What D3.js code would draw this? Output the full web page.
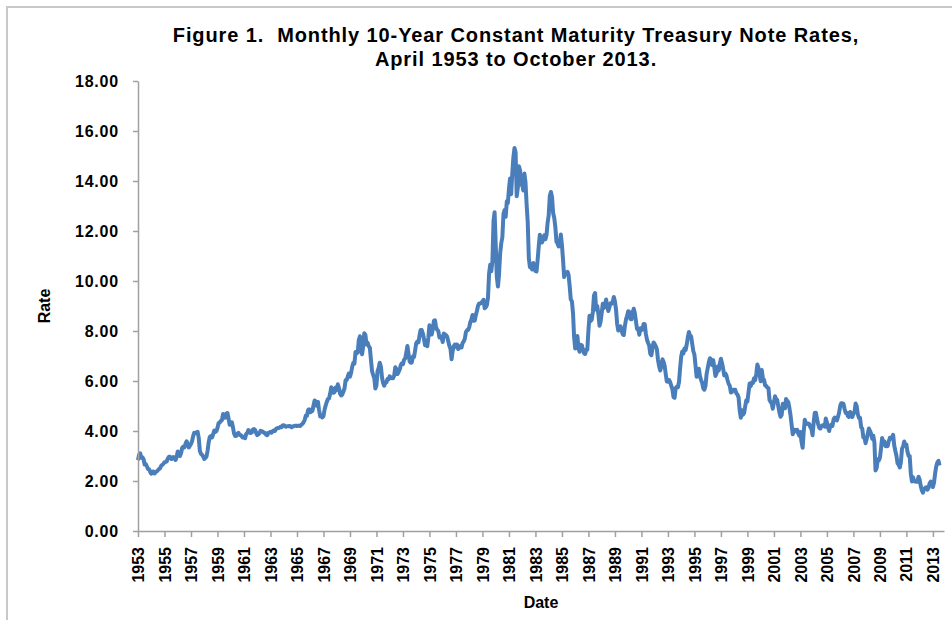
<!DOCTYPE html>
<html>
<head>
<meta charset="utf-8">
<script src="https://cdn.jsdelivr.net/npm/d3@7"></script>
<style>
  body { margin: 0; background: #fff; }
  svg { display: block; font-family: "Liberation Sans", Arial, sans-serif; }
</style>
</head>
<body>
<div id="chart"></div>
<script>
// monthly 10-year constant maturity rates, starting April 1953
const rates1950s = [
  2.83, 3.05, 3.11, 2.93, 2.95, 2.87, 2.66, 2.68, 2.59,
  2.48, 2.47, 2.37, 2.29, 2.37, 2.38, 2.30, 2.36, 2.38, 2.43, 2.48, 2.51,
  2.61, 2.65, 2.68, 2.75, 2.76, 2.78, 2.90, 2.97, 2.97, 2.88, 2.89, 2.96,
  2.90, 2.84, 2.96, 3.18, 3.07, 3.00, 3.11, 3.33, 3.38, 3.34, 3.49, 3.59,
  3.46, 3.34, 3.41, 3.48, 3.60, 3.80, 3.93, 3.93, 3.92, 3.97, 3.72, 3.21,
  3.09, 3.05, 2.98, 2.88, 2.92, 2.97, 3.20, 3.54, 3.76, 3.80, 3.74, 3.86,
  4.02, 3.96, 3.99, 4.12, 4.31, 4.34, 4.40, 4.43, 4.68, 4.53, 4.53, 4.69
];
const rates1960s = [
  4.72, 4.49, 4.25, 4.28, 4.35, 4.15, 3.90, 3.80, 3.80, 3.89, 3.93, 3.84,
  3.84, 3.78, 3.74, 3.78, 3.71, 3.88, 3.92, 4.04, 3.98, 3.92, 3.94, 4.06,
  4.08, 4.04, 3.93, 3.84, 3.87, 3.91, 4.01, 3.98, 3.98, 3.93, 3.92, 3.86,
  3.83, 3.92, 3.93, 3.97, 3.93, 3.99, 4.02, 4.00, 4.08, 4.11, 4.12, 4.13,
  4.17, 4.15, 4.22, 4.23, 4.20, 4.17, 4.19, 4.19, 4.20, 4.19, 4.15, 4.18,
  4.19, 4.21, 4.21, 4.20, 4.21, 4.21, 4.20, 4.25, 4.29, 4.35, 4.45, 4.62,
  4.61, 4.83, 4.87, 4.75, 4.78, 4.81, 5.02, 5.22, 5.18, 5.01, 5.16, 4.84,
  4.58, 4.63, 4.54, 4.59, 4.85, 5.02, 5.16, 5.28, 5.30, 5.48, 5.75, 5.70,
  5.53, 5.56, 5.74, 5.64, 5.87, 5.72, 5.50, 5.42, 5.46, 5.58, 5.70, 6.03,
  6.04, 6.19, 6.30, 6.17, 6.32, 6.57, 6.72, 6.69, 7.16, 7.10, 7.14, 7.65
];
const rates1970s = [
  7.79, 7.24, 7.07, 7.39, 7.91, 7.84, 7.46, 7.53, 7.39, 7.33, 6.84, 6.39,
  6.24, 6.11, 5.70, 5.83, 6.39, 6.52, 6.73, 6.58, 6.14, 5.93, 5.81, 5.93,
  5.95, 6.08, 6.07, 6.19, 6.13, 6.11, 6.11, 6.21, 6.55, 6.48, 6.28, 6.36,
  6.46, 6.64, 6.71, 6.67, 6.85, 6.90, 7.13, 7.40, 7.09, 6.79, 6.73, 6.74,
  6.99, 6.96, 7.21, 7.51, 7.58, 7.54, 7.81, 8.04, 8.04, 7.90, 7.68, 7.43,
  7.50, 7.39, 7.73, 8.23, 8.06, 7.86, 8.06, 8.40, 8.43, 8.14, 8.05, 8.00,
  7.74, 7.79, 7.73, 7.56, 7.90, 7.86, 7.83, 7.77, 7.59, 7.41, 7.29, 6.87,
  7.21, 7.39, 7.46, 7.37, 7.46, 7.28, 7.33, 7.40, 7.34, 7.52, 7.58, 7.69,
  7.96, 8.03, 8.04, 8.15, 8.35, 8.46, 8.64, 8.41, 8.42, 8.64, 8.81, 9.01,
  9.10, 9.10, 9.12, 9.18, 9.25, 8.91, 8.95, 9.03, 9.33, 10.30, 10.65, 10.39
];
const rates1980s = [
  10.80, 12.41, 12.75, 11.47, 10.18, 9.78, 10.25, 11.10, 11.51, 11.75, 12.68, 12.84,
  12.57, 13.19, 13.12, 13.68, 14.10, 13.47, 14.28, 14.94, 15.32, 15.15, 13.39, 13.72,
  14.59, 14.43, 13.86, 13.87, 13.62, 14.30, 13.95, 13.06, 12.34, 10.91, 10.55, 10.54,
  10.46, 10.72, 10.51, 10.40, 10.38, 10.85, 11.38, 11.85, 11.65, 11.54, 11.69, 11.83,
  11.67, 11.84, 12.32, 12.63, 13.41, 13.56, 13.36, 12.72, 12.52, 12.16, 11.57, 11.50,
  11.38, 11.51, 11.86, 11.43, 10.85, 10.16, 10.31, 10.33, 10.37, 10.24, 9.78, 9.26,
  9.19, 8.70, 7.78, 7.30, 7.71, 7.80, 7.30, 7.17, 7.45, 7.43, 7.25, 7.11,
  7.08, 7.25, 7.25, 8.02, 8.61, 8.40, 8.45, 8.76, 9.42, 9.52, 8.86, 8.99,
  8.67, 8.21, 8.37, 8.72, 9.09, 8.92, 9.06, 9.26, 8.98, 8.80, 8.96, 9.11,
  9.09, 9.17, 9.36, 9.18, 8.86, 8.28, 8.02, 8.11, 8.19, 8.01, 7.87, 7.84
];
const rates1990s = [
  8.21, 8.47, 8.59, 8.79, 8.76, 8.48, 8.47, 8.75, 8.89, 8.72, 8.39, 8.08,
  8.09, 7.85, 8.11, 8.04, 8.07, 8.28, 8.27, 7.90, 7.65, 7.53, 7.42, 7.09,
  7.03, 7.34, 7.54, 7.48, 7.39, 7.26, 6.84, 6.59, 6.42, 6.59, 6.87, 6.77,
  6.60, 6.26, 5.98, 5.97, 6.04, 5.96, 5.81, 5.68, 5.36, 5.33, 5.72, 5.77,
  5.75, 5.97, 6.48, 6.97, 7.18, 7.10, 7.30, 7.24, 7.46, 7.74, 7.96, 7.81,
  7.78, 7.47, 7.20, 7.06, 6.63, 6.17, 6.28, 6.49, 6.20, 6.04, 5.93, 5.71,
  5.65, 5.81, 6.27, 6.51, 6.74, 6.91, 6.87, 6.64, 6.83, 6.53, 6.20, 6.30,
  6.58, 6.42, 6.69, 6.89, 6.71, 6.49, 6.22, 6.30, 6.21, 6.03, 5.88, 5.81,
  5.54, 5.57, 5.65, 5.64, 5.65, 5.50, 5.46, 5.34, 4.81, 4.53, 4.83, 4.65,
  4.72, 5.00, 5.23, 5.18, 5.54, 5.90, 5.79, 5.94, 5.92, 6.11, 6.03, 6.28
];
const rates2000s = [
  6.66, 6.52, 6.26, 5.99, 6.44, 6.10, 6.05, 5.83, 5.80, 5.74, 5.72, 5.24,
  5.16, 5.10, 4.89, 5.14, 5.39, 5.28, 5.24, 4.97, 4.73, 4.57, 4.65, 5.09,
  5.04, 4.91, 5.28, 5.21, 5.16, 4.93, 4.65, 4.26, 3.87, 3.94, 4.05, 4.03,
  4.05, 3.90, 3.81, 3.96, 3.57, 3.33, 3.98, 4.45, 4.27, 4.29, 4.30, 4.27,
  4.15, 4.08, 3.83, 4.35, 4.72, 4.73, 4.50, 4.28, 4.13, 4.10, 4.19, 4.23,
  4.22, 4.17, 4.50, 4.34, 4.14, 4.00, 4.18, 4.26, 4.20, 4.46, 4.54, 4.47,
  4.42, 4.57, 4.72, 4.99, 5.11, 5.11, 5.09, 4.88, 4.72, 4.73, 4.60, 4.56,
  4.76, 4.72, 4.56, 4.69, 4.75, 5.10, 5.00, 4.67, 4.52, 4.53, 4.15, 4.10,
  3.74, 3.74, 3.51, 3.68, 3.88, 4.10, 4.01, 3.89, 3.69, 3.81, 3.53, 2.42,
  2.52, 2.87, 2.82, 2.93, 3.29, 3.72, 3.56, 3.59, 3.40, 3.39, 3.40, 3.59
];
const rates2010s = [
  3.73, 3.69, 3.73, 3.85, 3.42, 3.20, 3.01, 2.70, 2.65, 2.54, 2.76, 3.29,
  3.39, 3.58, 3.41, 3.46, 3.17, 3.00, 3.00, 2.30, 1.98, 2.15, 2.01, 1.98,
  1.97, 1.97, 2.17, 2.05, 1.80, 1.62, 1.53, 1.68, 1.72, 1.75, 1.65, 1.72,
  1.91, 1.98, 1.96, 1.76, 1.93, 2.30, 2.58, 2.74, 2.81, 2.62
];
const tickYears = d3.range(1953, 2014, 2);
const yTicks = [0, 2, 4, 6, 8, 10, 12, 14, 16, 18];

const rates = [].concat(rates1950s, rates1960s, rates1970s, rates1980s, rates1990s, rates2000s, rates2010s);
const start = new Date(1953, 3, 1);
const data = rates.map((v, i) => ({ date: d3.timeMonth.offset(start, i), rate: v }));

const width = 952, height = 620;
const margin = { top: 81, right: 8, bottom: 89, left: 138 };

const svg = d3.select("#chart").append("svg")
  .attr("width", width)
  .attr("height", height);

// chart area border
svg.append("rect")
  .attr("x", 7).attr("y", 7)
  .attr("width", 1000).attr("height", 700)
  .attr("fill", "none")
  .attr("stroke", "#c8c8c8")
  .attr("stroke-width", 2);

const x = d3.scaleTime()
  .domain([start, d3.timeMonth.offset(start, 730)])
  .range([margin.left, width - margin.right]);

const y = d3.scaleLinear()
  .domain([0, 18])
  .range([height - margin.bottom, margin.top]);

const line = d3.line()
  .x(d => x(d.date))
  .y(d => y(d.rate));

svg.append("path")
  .datum(data)
  .attr("fill", "none")
  .attr("stroke", "#4a7ebb")
  .attr("stroke-width", 4)
  .attr("stroke-linejoin", "round")
  .attr("d", line);

const xAxis = svg.append("g")
  .attr("transform", `translate(0,${height - margin.bottom})`)
  .call(d3.axisBottom(x)
    .tickValues(tickYears.map(yr => new Date(yr, 3, 1)))
    .tickFormat(d3.timeFormat("%Y"))
    .tickSize(6)
    .tickSizeOuter(0));

xAxis.selectAll("text")
  .attr("transform", "rotate(-90)")
  .attr("text-anchor", "end")
  .attr("x", -16)
  .attr("y", 0)
  .attr("dy", "0.35em");

const yAxis = svg.append("g")
  .attr("transform", `translate(${margin.left},0)`)
  .call(d3.axisLeft(y)
    .tickValues(yTicks)
    .tickFormat(d3.format(".2f"))
    .tickSize(5)
    .tickSizeOuter(0)
    .tickPadding(14));

svg.selectAll(".tick text")
  .attr("fill", "#000")
  .style("font-size", "16px")
  .style("font-weight", "bold");
yAxis.selectAll("text").style("letter-spacing", "0.8px");

svg.selectAll(".domain, .tick line")
  .attr("stroke", "#a0a0a0")
  .attr("stroke-width", 1.5);

// title, two lines
const titleLines = [
  "Figure 1.  Monthly 10-Year Constant Maturity Treasury Note Rates,",
  "April 1953 to October 2013."
];
svg.append("g").selectAll("text")
  .data(titleLines)
  .join("text")
  .attr("x", 516)
  .attr("y", (d, i) => 42 + i * 24)
  .attr("text-anchor", "middle")
  .attr("xml:space", "preserve")
  .style("font-size", "20px")
  .style("font-weight", "bold")
  .style("letter-spacing", "0.9px")
  .text(d => d);

svg.append("text")
  .attr("transform", `translate(50,${(y(0) + y(18)) / 2}) rotate(-90)`)
  .attr("text-anchor", "middle")
  .style("font-size", "16px")
  .style("font-weight", "bold")
  .text("Rate");

svg.append("text")
  .attr("x", (x.range()[0] + x.range()[1]) / 2)
  .attr("y", 608)
  .attr("text-anchor", "middle")
  .style("font-size", "16px")
  .style("font-weight", "bold")
  .text("Date");
</script>
</body>
</html>
